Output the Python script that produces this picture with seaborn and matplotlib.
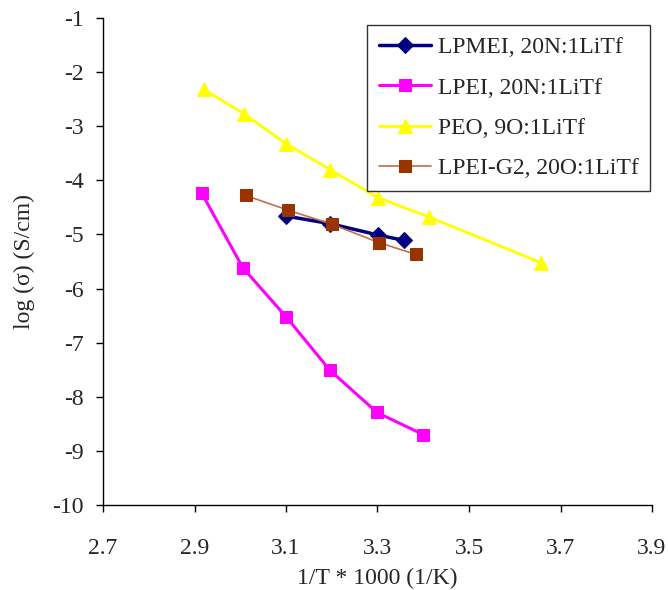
import matplotlib
matplotlib.use("Agg")
import matplotlib.pyplot as plt
import seaborn as sns
import pandas as pd

# data
lpmei_x = [3.10, 3.196, 3.301, 3.358]
lpmei_y = [-4.66, -4.80, -5.01, -5.11]
lpei_x = [2.916, 3.006, 3.100, 3.196, 3.299, 3.400]
lpei_y = [-4.24, -5.62, -6.52, -7.51, -8.29, -8.70]
peo_x = [2.920, 3.008, 3.100, 3.196, 3.301, 3.413, 3.657]
peo_y = [-2.32, -2.77, -3.32, -3.80, -4.32, -4.68, -5.52]
g2_x = [3.012, 3.104, 3.200, 3.303, 3.384]
g2_y = [-4.28, -4.55, -4.81, -5.15, -5.37]

labels = ["LPMEI, 20N:1LiTf", "LPEI, 20N:1LiTf", "PEO, 9O:1LiTf", "LPEI-G2, 20O:1LiTf"]
x_ticks = [2.7, 2.9, 3.1, 3.3, 3.5, 3.7, 3.9]
y_ticks = list(range(-10, 0))

sns.set_style("white")
plt.rcParams['font.family'] = ['Liberation Serif', 'DejaVu Serif']

fig = plt.figure(figsize=(6.68, 5.9), dpi=100)
ax = fig.add_axes([103/668, 1-505/590, (652-103)/668, (505-18)/590])

styles = [
    (lpmei_x, lpmei_y, "#000080", "D", 8, 2.5),
    (lpei_x, lpei_y, "#FF00FF", "s", 9, 2.2),
    (peo_x, peo_y, "#FFFF00", "^", 10, 2.0),
    (g2_x, g2_y, "#993300", "s", 9, 1.2),
]
line_colors = ["#000080", "#FF00FF", "#FFFF00", "#C0704A"]
for (xs, ys, c, m, ms, lw), lab, lc in zip(styles, labels, line_colors):
    df = pd.DataFrame({"x": xs, "y": ys})
    sns.lineplot(data=df, x="x", y="y", ax=ax, color=lc, linewidth=lw,
                 marker=m, markersize=ms, markerfacecolor=c, markeredgecolor=c,
                 label=lab, sort=False)

ax.set_xlim(2.7, 3.9)
ax.set_ylim(-10, -1)
ax.set_xticks(x_ticks)
ax.set_xticklabels([f"{v:.1f}" for v in x_ticks])
ax.set_yticks(y_ticks)
ax.set_yticklabels([f"{v}" for v in y_ticks])
for s in ["top", "right"]:
    ax.spines[s].set_visible(False)
for s in ["left", "bottom"]:
    ax.spines[s].set_color("black")
    ax.spines[s].set_linewidth(1.0)
ax.tick_params(axis="both", which="major", direction="out", length=5, width=1,
               color="black", labelsize=17, left=True, bottom=True)
ax.tick_params(axis="y", pad=9)
ax.tick_params(axis="x", pad=19)
ax.set_xlabel("1/T * 1000 (1/K)", fontsize=17, labelpad=6)
ax.set_ylabel("log (σ) (S/cm)", fontsize=17, labelpad=12)

leg = ax.legend(loc="upper right", bbox_to_anchor=(0.997, 0.986), fontsize=17,
                frameon=True, fancybox=False, edgecolor="black",
                handlelength=2.2, borderpad=0.5, labelspacing=0.8,
                handletextpad=0.3, borderaxespad=0.0)
leg.get_frame().set_linewidth(1.0)

fig.savefig("out.png", dpi=100, facecolor="white")
